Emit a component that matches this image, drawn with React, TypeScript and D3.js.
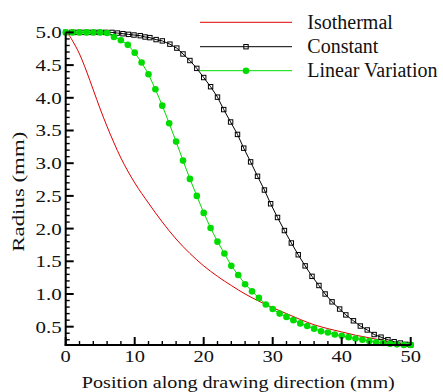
import React from "react";
import * as d3 from "d3";

// ---- Data ----
const isoX = [0, 0.6, 1, 2, 3, 4, 5, 6, 7, 8, 9, 10, 12, 14, 16, 18, 20, 22, 24, 26, 28, 30, 32, 34, 36, 38, 40, 42, 44, 46, 48, 50];
const isoY = [5.0, 4.94, 4.87, 4.67, 4.41, 4.12, 3.83, 3.56, 3.31, 3.08, 2.88, 2.7, 2.39, 2.1, 1.84, 1.62, 1.43, 1.27, 1.13, 1.0, 0.89, 0.79, 0.7, 0.61, 0.53, 0.47, 0.42, 0.37, 0.33, 0.29, 0.25, 0.22];

const constX = [0, 0.9, 1.7, 2.5, 3.3, 4.1, 4.9, 5.8, 6.7, 7.5, 8.3, 9.1, 9.9, 10.8, 11.5, 12.2, 13.1, 14.0, 15.1, 16.1, 17.0, 18.0, 19.0, 20.0, 21.0, 22.0, 22.9, 23.9, 24.9, 25.8, 26.8, 27.8, 28.8, 29.7, 30.7, 31.7, 32.7, 33.7, 34.7, 35.7, 36.7, 37.6, 38.6, 39.7, 40.6, 41.7, 42.7, 43.7, 44.7, 45.7, 46.7, 47.6, 48.5, 49.3, 50];
const constY = [5.0, 5.0, 5.0, 5.0, 5.0, 5.0, 5.0, 5.0, 5.0, 4.99, 4.98, 4.97, 4.96, 4.95, 4.93, 4.92, 4.89, 4.87, 4.82, 4.76, 4.67, 4.57, 4.45, 4.31, 4.17, 4.01, 3.82, 3.63, 3.44, 3.23, 3.02, 2.8, 2.59, 2.38, 2.17, 1.97, 1.78, 1.6, 1.43, 1.27, 1.13, 1.0, 0.88, 0.77, 0.68, 0.59, 0.51, 0.45, 0.38, 0.34, 0.3, 0.27, 0.25, 0.23, 0.22];

const linX = [0, 1, 2, 3, 4, 5, 6, 7, 8, 9, 10, 11, 12, 13, 14, 15, 16, 17, 18, 19, 20, 21, 22, 23, 24, 25, 26, 27, 28, 29, 30, 31, 32, 33, 34, 35, 36, 37, 38, 39, 40, 41, 42, 43, 44, 45, 46, 47, 48, 49, 50];
const linY = [5.0, 5.0, 5.0, 5.0, 5.0, 5.0, 4.99, 4.93, 4.88, 4.81, 4.69, 4.54, 4.36, 4.13, 3.88, 3.61, 3.33, 3.04, 2.76, 2.5, 2.24, 2.01, 1.8, 1.62, 1.43, 1.29, 1.15, 1.04, 0.94, 0.84, 0.77, 0.7, 0.65, 0.6, 0.55, 0.51, 0.47, 0.43, 0.41, 0.38, 0.36, 0.34, 0.32, 0.3, 0.28, 0.26, 0.25, 0.24, 0.23, 0.22, 0.22];

const xTicks = [0, 10, 20, 30, 40, 50];
const yTicks = [0.5, 1.0, 1.5, 2.0, 2.5, 3.0, 3.5, 4.0, 4.5, 5.0];
const legendLabels = ["Isothermal", "Constant", "Linear Variation"];

const RED = "#e00000";
const GREEN = "#00dc00";
const FONT = '"Liberation Serif", "DejaVu Serif", serif';

export default function App() {
  const W = 443, H = 392;
  const x = d3.scaleLinear().domain([0, 50]).range([65.7, 410.7]);
  const y = d3.scaleLinear().domain([0.22, 5.0]).range([345, 32.4]);

  const xMinor = d3.range(0, 50.001, 2).filter((v) => Math.abs(v % 10) > 1e-6);
  const yMinor = d3.range(0.3, 5.0001, 0.1).map((v) => Math.round(v * 10) / 10).filter((v) => Math.abs((v * 10) % 5) > 1e-6);

  const iso = isoX.map((v, i) => [v, isoY[i]] as [number, number]);
  const cons = constX.map((v, i) => [v, constY[i]] as [number, number]);
  const lin = linX.map((v, i) => [v, linY[i]] as [number, number]);

  const smooth = d3.line<[number, number]>().x((d) => x(d[0])).y((d) => y(d[1])).curve(d3.curveMonotoneX);
  const straight = d3.line<[number, number]>().x((d) => x(d[0])).y((d) => y(d[1]));

  const sq = 4.4;
  const legY = [22.3, 46.7, 70.7];
  const txt = { fontFamily: FONT, fill: "#111" } as React.CSSProperties;

  return (
    <svg width={W} height={H} style={{ position: "absolute", left: 0, top: 0, background: "#fff" }}>
      {/* series */}
      <path d={smooth(iso) || ""} fill="none" stroke={RED} strokeWidth={1} />
      <path d={straight(cons) || ""} fill="none" stroke="#000" strokeWidth={1} />
      {cons.map((d, i) => (
        <rect key={"c" + i} x={x(d[0]) - sq / 2} y={y(d[1]) - sq / 2} width={sq} height={sq} fill="none" stroke="#000" strokeWidth={1} />
      ))}
      <path d={straight(lin) || ""} fill="none" stroke={GREEN} strokeWidth={1} />
      {lin.map((d, i) => (
        <circle key={"l" + i} cx={x(d[0])} cy={y(d[1])} r={3.3} fill={GREEN} />
      ))}

      {/* axes */}
      <line x1={x(0)} x2={x(0)} y1={y(5.0)} y2={y(0.22) + 1} stroke="#000" strokeWidth={2} />
      <line x1={x(0) - 1} x2={x(50)} y1={y(0.22)} y2={y(0.22)} stroke="#000" strokeWidth={2} />
      {xTicks.map((t) => (
        <line key={"xt" + t} x1={x(t)} x2={x(t)} y1={y(0.22)} y2={y(0.22) - 8} stroke="#000" strokeWidth={2} />
      ))}
      {xMinor.map((t) => (
        <line key={"xm" + t} x1={x(t)} x2={x(t)} y1={y(0.22)} y2={y(0.22) - 4} stroke="#000" strokeWidth={1.4} />
      ))}
      {yTicks.map((t) => (
        <line key={"yt" + t} x1={x(0)} x2={x(0) + 8} y1={y(t)} y2={y(t)} stroke="#000" strokeWidth={2} />
      ))}
      {yMinor.map((t) => (
        <line key={"ym" + t} x1={x(0)} x2={x(0) + 4} y1={y(t)} y2={y(t)} stroke="#000" strokeWidth={1.4} />
      ))}

      {/* tick labels */}
      {xTicks.map((t) => (
        <g key={"xl" + t} transform={`translate(${x(t)},361.7) scale(1.17,1)`}>
          <text textAnchor="middle" style={{ ...txt, fontSize: "17.5px" }}>{t}</text>
        </g>
      ))}
      {yTicks.map((t) => (
        <g key={"yl" + t} transform={`translate(61.8,${y(t) + 6}) scale(1.2,1)`}>
          <text textAnchor="end" style={{ ...txt, fontSize: "17.5px" }}>{t.toFixed(1)}</text>
        </g>
      ))}

      {/* axis titles */}
      <text x={238.3} y={387.7} textAnchor="middle" style={{ ...txt, fontSize: "17.5px" }} textLength={313} lengthAdjust="spacingAndGlyphs">
        Position along drawing direction (mm)
      </text>
      <text transform={`translate(23.5,191.7) rotate(-90)`} textAnchor="middle" style={{ ...txt, fontSize: "17.5px" }} textLength={120} lengthAdjust="spacingAndGlyphs">
        Radius (mm)
      </text>

      {/* legend */}
      <line x1={200} x2={292} y1={legY[0]} y2={legY[0]} stroke={RED} strokeWidth={1} />
      <line x1={200} x2={292} y1={legY[1]} y2={legY[1]} stroke="#000" strokeWidth={1} />
      <rect x={246 - sq / 2} y={legY[1] - sq / 2} width={sq} height={sq} fill="none" stroke="#000" strokeWidth={1} />
      <line x1={200} x2={292} y1={legY[2]} y2={legY[2]} stroke={GREEN} strokeWidth={1} />
      <circle cx={246} cy={legY[2]} r={3.3} fill={GREEN} />
      {legendLabels.map((s, i) => (
        <text key={s} x={307.3} y={legY[i] + 6.3} style={{ ...txt, fontSize: "20px" }}>{s}</text>
      ))}
    </svg>
  );
}
